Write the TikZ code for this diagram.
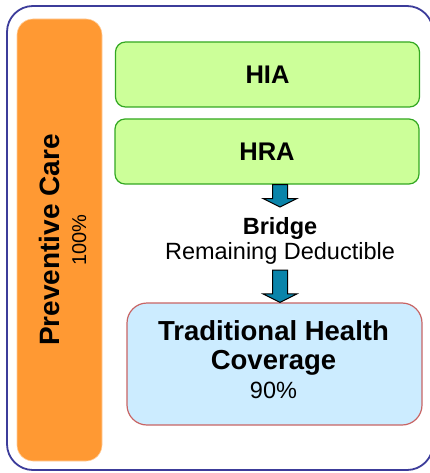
\documentclass[tikz,border=0pt]{standalone}
\usepackage{fontspec}
\setmainfont{Liberation Sans}
\usetikzlibrary{calc}
\definecolor{framec}{HTML}{3C3C9A}
\definecolor{orangec}{HTML}{FF9933}
\definecolor{greenfill}{HTML}{CCFF99}
\definecolor{greenline}{HTML}{33A822}
\definecolor{bluefill}{HTML}{CCECFF}
\definecolor{redline}{HTML}{C86464}
\definecolor{arrowc}{HTML}{0A84AA}
\tikzset{
  greenbox/.style={draw=greenline, line width=1.2pt, fill=greenfill, rounded corners=10pt,
    minimum width=304pt, minimum height=65pt, inner sep=0pt, font=\fontsize{25.5}{30}\selectfont\bfseries},
  bluebox/.style={draw=redline, line width=1.2pt, fill=bluefill, rounded corners=20pt,
    minimum width=295pt, minimum height=122pt, inner sep=0pt},
  prevbox/.style={draw=orange!40!white, line width=0.6pt, fill=orangec, rounded corners=16pt,
    minimum width=85pt, minimum height=442pt, inner sep=0pt},
  blockarr/.style={draw=black, line width=1pt, fill=arrowc, line join=miter},
  lbl/.style={inner sep=0pt, align=center}
}
\newcommand\blockarrow[2]{%
  \draw[blockarr] let \p1=(#1), \p2=(#2) in
    (\x1-7.5pt,\y1) -- (\x1+7.5pt,\y1) -- (\x1+7.5pt,\y2+8.5pt) -- (\x1+17pt,\y2+8.5pt)
    -- (\x1,\y2) -- (\x1-17pt,\y2+8.5pt) -- (\x1-7.5pt,\y2+8.5pt) -- cycle;}
\begin{document}
\begin{tikzpicture}[x=1pt,y=-1pt]
\useasboundingbox (0,0) rectangle (430,473);
\draw[framec, line width=1.8pt, rounded corners=26pt] (7,6) rectangle (433,470);
\node[prevbox] (prev) at (59.5,240) {};
\node[lbl, rotate=90, font=\fontsize{28}{27}\selectfont] (prevtxt) at ($(prev.center)+(3,0)$)
  {\bfseries Preventive Care\\{\fontsize{20}{27}\selectfont 100\%}};
\node[greenbox] (hia) at (267.5,74.5) {HIA};
\node[greenbox] (hra) at (267,151.5) {HRA};
\node[bluebox] (trad) at (274.5,364) {};
\node[lbl, font=\fontsize{27.5}{29}\selectfont] (tradtxt) at ($(trad.center)+(-1,-4)$)
  {\bfseries Traditional Health\\
   \bfseries Coverage\\
   {\fontsize{23.5}{29}\selectfont 90\%}};
\node[lbl, font=\fontsize{23.5}{25}\selectfont] (bridge) at (280,241)
  {\bfseries Bridge\\Remaining Deductible};
\coordinate (a1top) at (hra.south -| bridge.north);
\coordinate (a1end) at ($(bridge.center)+(0,-34)$);
\coordinate (a2start) at ($(bridge.center)+(0,29)$);
\coordinate (a2bot) at (trad.north -| bridge.south);
\blockarrow{a1top}{a1end}
\blockarrow{a2start}{a2bot}
\end{tikzpicture}
\end{document}
